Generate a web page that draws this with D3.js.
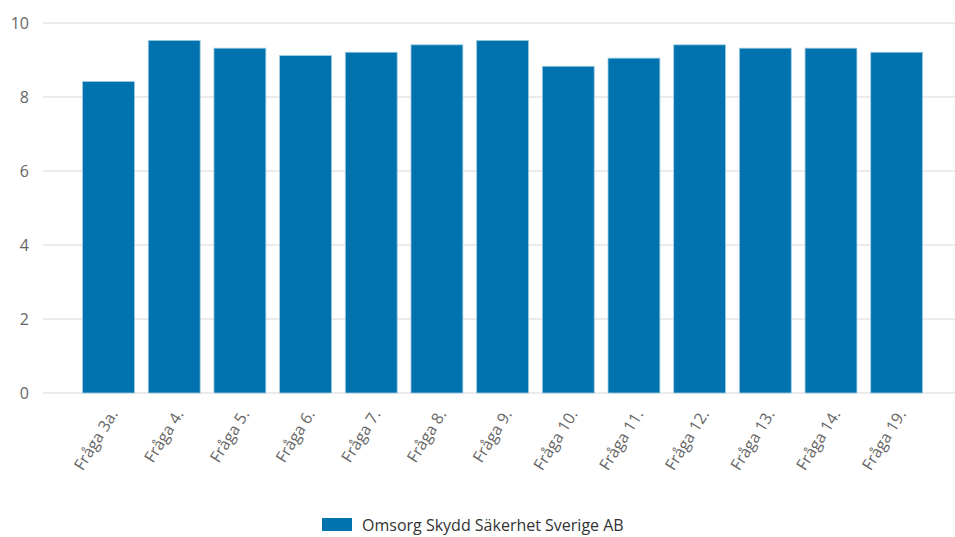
<!DOCTYPE html>
<html>
<head>
<meta charset="utf-8">
<script src="https://cdn.jsdelivr.net/npm/d3@7"></script>
<style>
  body { margin: 0; background: #fff; }
  text { font-family: "Open Sans", sans-serif; }
</style>
</head>
<body>
<div id="chart-area"></div>
<script>
/* Data */
var categories = ["Fråga 3a.", "Fråga 4.", "Fråga 5.", "Fråga 6.", "Fråga 7.", "Fråga 8.", "Fråga 9.",
                  "Fråga 10.", "Fråga 11.", "Fråga 12.", "Fråga 13.", "Fråga 14.", "Fråga 19."];
var values = [8.42, 9.53, 9.32, 9.12, 9.21, 9.41, 9.53, 8.83, 9.05, 9.41, 9.32, 9.32, 9.21];
var yTicks = [0, 2, 4, 6, 8, 10];
var seriesName = "Omsorg Skydd Säkerhet Sverige AB";

var width = 955, height = 537;
var barColor = "#0073ae";

var svg = d3.select("#chart-area").append("svg")
  .attr("width", width)
  .attr("height", height);

/* Scales */
var x = d3.scaleBand()
  .domain(categories)
  .range([75.7, 929.5])
  .paddingInner(0.21)
  .paddingOuter(0.105);

var y = d3.scaleLinear()
  .domain([0, 10])
  .range([393, 23]);

/* Grid lines */
svg.append("g")
  .selectAll("line")
  .data(yTicks)
  .enter().append("line")
    .attr("x1", 43)
    .attr("x2", width)
    .attr("y1", d => y(d))
    .attr("y2", d => y(d))
    .attr("stroke", "#e4e4e4")
    .attr("stroke-width", 1.5);

// Y Axis labels
var yAxisCall = d3.axisLeft(y)
  .tickValues(yTicks)
  .tickSize(0)
  .tickPadding(0);
var yAxis = svg.append("g")
  .attr("transform", "translate(29,0)")
  .call(yAxisCall);
yAxis.select(".domain").remove();
yAxis.selectAll("text")
  .attr("font-family", "'Open Sans', sans-serif")
  .attr("font-size", "16px")
  .attr("fill", "#666");

/* Bars */
svg.append("g")
  .selectAll("rect")
  .data(values)
  .enter().append("rect")
    .attr("x", (d, i) => x(categories[i]))
    .attr("y", d => y(d))
    .attr("width", x.bandwidth())
    .attr("height", d => y(0) - y(d))
    .attr("fill", barColor)
    .attr("stroke", "#9fcbe3")
    .attr("stroke-width", 0.8);

// X labels
svg.append("g")
  .selectAll("text")
  .data(categories)
  .enter().append("text")
    .attr("transform", d => `translate(${x(d) + x.bandwidth() / 2 + 10},${y(0) + 21}) rotate(-58)`)
    .attr("text-anchor", "end")
    .attr("font-size", "16px")
    .attr("fill", "#666")
    .text(d => d);

/* Legend */
var legend = svg.append("g")
  .attr("transform", "translate(322,518)");

legend.append("rect")
  .attr("width", 30)
  .attr("height", 13)
  .attr("fill", barColor);

legend.append("text")
  .attr("x", 40)
  .attr("y", 13)
  .attr("font-size", "16px")
  .attr("fill", "#333")
  .text(seriesName);
</script>
</body>
</html>
